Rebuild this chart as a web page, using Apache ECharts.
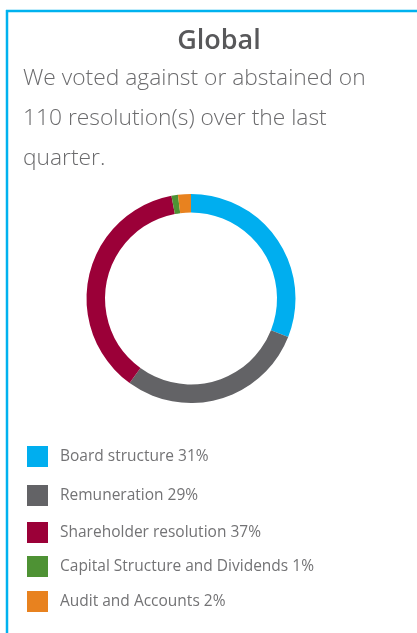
<!DOCTYPE html>
<html>
<head>
<meta charset="utf-8">
<script src="https://cdn.jsdelivr.net/npm/echarts@6/dist/echarts.min.js"></script>
<style>
html,body{margin:0;padding:0;background:#fff;}
#chart{width:417px;height:633px;}
</style>
</head>
<body>
<div id="chart"></div>
<script>
const categories = ['Board structure', 'Remuneration', 'Shareholder resolution', 'Capital Structure and Dividends', 'Audit and Accounts'];
const shares = [31, 29, 37, 1, 2];
const colors = ['#00aeef', '#636366', '#9b0038', '#4e9234', '#e8821f'];
const titleText = 'Global';
const subtitleText = 'We voted against or abstained on\n110 resolution(s) over the last\nquarter.';

const font = "'Open Sans', sans-serif";
const legendTops = [441, 480, 517, 551, 586];

const chart = echarts.init(document.getElementById('chart'), null, {renderer: 'canvas'});
const data = categories.map((c, i) => ({name: c, value: shares[i], itemStyle: {color: colors[i]}}));

chart.setOption({
  animation: false,
  title: [
    {text: titleText, left: 214, top: 23, textAlign: 'center',
     textStyle: {fontFamily: font, fontSize: 27, fontWeight: 600, color: '#58585a'}},
    {text: subtitleText, left: 18, top: 54,
     textStyle: {fontFamily: font, fontSize: 22.8, fontWeight: 300, color: '#6b6b6d', lineHeight: 40}}
  ],
  legend: categories.map((c, i) => ({
    data: [c], left: 22, top: legendTops[i], orient: 'vertical',
    itemWidth: 21, itemHeight: 21, icon: 'rect',
    formatter: name => name + ' ' + shares[categories.indexOf(name)] + '%',
    textStyle: {fontFamily: font, fontSize: 15.5, color: '#737375', padding: [0, 0, 0, 7]},
    selectedMode: false
  })),
  graphic: [
    {type: 'line', shape: {x1: 6, y1: 11, x2: 417, y2: 11}, style: {stroke: '#00b2ef', lineWidth: 2.5}},
    {type: 'line', shape: {x1: 7, y1: 10, x2: 7, y2: 633}, style: {stroke: '#00b2ef', lineWidth: 2.5}}
  ],
  series: [{
    type: 'pie',
    center: [191, 298.5],
    radius: [86, 104.5],
    startAngle: 90,
    clockwise: true,
    label: {show: false},
    labelLine: {show: false},
    emphasis: {disabled: true},
    itemStyle: {borderWidth: 0},
    data: data
  }]
});
</script>
</body>
</html>
